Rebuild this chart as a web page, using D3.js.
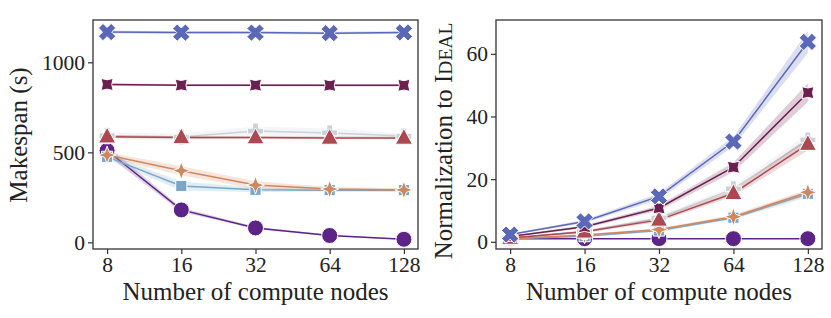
<!DOCTYPE html>
<html>
<head>
<meta charset="utf-8">
<script src="https://cdn.jsdelivr.net/npm/d3@7"></script>
<style>
  body { margin: 0; background: #fff; }
  svg text { font-family: "Liberation Serif", "DejaVu Serif", serif; fill: #222; }
</style>
</head>
<body>
<div id="chart"></div>
<script>
// x values (compute nodes)
var nodes = [8, 16, 32, 64, 128];
var xTicks = [8, 16, 32, 64, 128];
var leftTicks = [0, 500, 1000];
var rightTicks = [0, 20, 40, 60];

// one entry per series, drawn in this order
var seriesKeys = ["ideal", "square", "star", "plus", "triangle", "xstar", "cross"];
var seriesColors = ["#5b2486", "#79a7c9", "#d0875f", "#c9d1d9", "#ad4850", "#6d1f4f", "#5b68b9"];
var seriesMarkers = ["circle", "square", "star", "plus", "triangle", "xstar", "cross"];

// makespan (s)
var makespan = {
  ideal:    [510, 180, 80, 38, 17],
  square:   [475, 313, 292, 290, 290],
  star:     [485, 398, 318, 296, 291],
  plus:     [592, 585, 618, 608, 590],
  triangle: [587, 583, 582, 580, 580],
  xstar:    [877, 873, 873, 872, 872],
  cross:    [1168, 1165, 1165, 1162, 1166]
};
// half width of the shaded band (s)
var makespanErr = {
  ideal:    [25, 12, 6, 4, 2],
  square:   [15, 25, 12, 8, 8],
  star:     [15, 25, 22, 12, 10],
  plus:     [20, 20, 25, 25, 15],
  triangle: [8, 8, 8, 8, 8],
  xstar:    [6, 6, 6, 6, 6],
  cross:    [8, 8, 8, 8, 8]
};

// normalization to Ideal
var normalized = {
  ideal:    [1, 1, 1, 1, 1],
  square:   [1.0, 1.8, 3.6, 7.7, 15.3],
  star:     [1.0, 2.2, 3.9, 8.0, 15.8],
  plus:     [1.2, 3.3, 7.6, 16.9, 32.5],
  triangle: [1.2, 3.2, 7.0, 15.5, 31.2],
  xstar:    [1.7, 4.8, 10.8, 23.8, 47.6],
  cross:    [2.3, 6.5, 14.5, 32.0, 63.8]
};
var normalizedErr = {
  ideal:    [0, 0, 0, 0, 0],
  square:   [0.1, 0.2, 0.4, 0.6, 1.0],
  star:     [0.1, 0.2, 0.4, 0.6, 1.0],
  plus:     [0.2, 0.4, 0.6, 1.0, 2.0],
  triangle: [0.2, 0.4, 0.6, 1.0, 2.0],
  xstar:    [0.2, 0.5, 0.8, 1.5, 3.0],
  cross:    [0.2, 0.5, 1.0, 1.5, 3.5]
};

// marker shapes (size = rough radius in px)
function markerPath(type, r) {
  var p = d3.path();
  if (type == "circle") {
    p.moveTo(r, 0); p.arc(0, 0, r, 0, 2 * Math.PI);
  } else if (type == "square") {
    p.rect(-r * 0.8, -r * 0.8, r * 1.6, r * 1.6);
  } else if (type == "triangle") {
    p.moveTo(0, -r * 1.05); p.lineTo(r * 0.95, r * 0.7); p.lineTo(-r * 0.95, r * 0.7); p.closePath();
  } else if (type == "plus" || type == "cross") {
    var w = r * 0.36, a = type == "cross" ? Math.PI / 4 : 0;
    var pts = [[-w,-r],[w,-r],[w,-w],[r,-w],[r,w],[w,w],[w,r],[-w,r],[-w,w],[-r,w],[-r,-w],[-w,-w]];
    pts.forEach(function(q, i){
      var x = q[0] * Math.cos(a) - q[1] * Math.sin(a), y = q[0] * Math.sin(a) + q[1] * Math.cos(a);
      if (i == 0) p.moveTo(x, y); else p.lineTo(x, y);
    });
    p.closePath();
  } else if (type == "star" || type == "xstar") {
    var a0 = type == "xstar" ? Math.PI / 4 : 0;
    var inner = type == "xstar" ? 0.55 : 0.38;
    for (var i = 0; i < 8; i++) {
      var ang = a0 + i * Math.PI / 4 - Math.PI / 2;
      var rr = i % 2 == 0 ? r : r * inner;
      if (i == 0) p.moveTo(rr * Math.cos(ang), rr * Math.sin(ang)); else p.lineTo(rr * Math.cos(ang), rr * Math.sin(ang));
    }
    p.closePath();
  }
  return p.toString();
}
var markerSize = {circle: 8, square: 7, star: 9, plus: 8, triangle: 9, xstar: 8.5, cross: 9};

var svg = d3.select("#chart").append("svg").attr("width", 831).attr("height", 318);
svg.append("rect").attr("width", 831).attr("height", 318).attr("fill", "#fff");

var pad = Math.pow(2, 0.19);

function drawPanel(opt) {
  var x = d3.scaleLog().base(2).domain([8 / pad, 128 * pad]).range([opt.left, opt.right]);
  var y = d3.scaleLinear().domain(opt.yDomain).range([opt.bottom, opt.top]);
  var g = svg.append("g");

  var line = d3.line().x((d, i) => x(nodes[i])).y(d => y(d));
  var area = d3.area().x((d, i) => x(nodes[i]))
    .y0(d => y(d[0] - d[1])).y1(d => y(d[0] + d[1]));

  seriesKeys.forEach(function(k, si){
    var vals = opt.data[k], err = opt.err[k];
    var col = seriesColors[si];
    g.append("path").datum(vals.map((v, i) => [v, err[i]]))
      .attr("d", area).attr("fill", col).attr("fill-opacity", 0.22).attr("stroke", "none");
    g.append("path").datum(vals).attr("d", line)
      .attr("fill", "none").attr("stroke", col).attr("stroke-width", 1.5);
  });
  seriesKeys.forEach(function(k, si){
    var vals = opt.data[k];
    var m = seriesMarkers[si];
    g.selectAll(null).data(vals).enter().append("path")
      .attr("transform", (d, i) => "translate(" + x(nodes[i]) + "," + y(d) + ")")
      .attr("d", markerPath(m, markerSize[m]))
      .attr("fill", seriesColors[si]).attr("stroke", "#fff").attr("stroke-width", 1);
  });

  // frame
  g.append("rect").attr("x", opt.left).attr("y", opt.top)
    .attr("width", opt.right - opt.left).attr("height", opt.bottom - opt.top)
    .attr("fill", "none").attr("stroke", "#333").attr("stroke-width", 1.3);

  var xa = g.append("g").attr("transform", "translate(0," + opt.bottom + ")")
    .call(d3.axisBottom(x).tickValues(xTicks).tickFormat(d3.format("d")).tickSize(5).tickPadding(3));
  var ya = g.append("g").attr("transform", "translate(" + opt.left + ",0)")
    .call(d3.axisLeft(y).tickValues(opt.yTicks).tickFormat(d3.format("d")).tickSize(5).tickPadding(3));
  [xa, ya].forEach(function(a){
    a.select(".domain").remove();
    a.selectAll(".tick line").attr("stroke", "#333").attr("stroke-width", 1.2);
    a.selectAll(".tick text").attr("font-size", 21.5).attr("font-family", "Liberation Serif").attr("fill", "#222");
  });

  g.append("text").attr("x", (opt.left + opt.right) / 2).attr("y", 300)
    .attr("text-anchor", "middle").attr("font-size", 25).text("Number of compute nodes");
  return g;
}

drawPanel({left: 93, right: 418, top: 20, bottom: 249, yDomain: [-37, 1235], yTicks: leftTicks,
  data: makespan, err: makespanErr});
drawPanel({left: 496, right: 822, top: 20, bottom: 249, yDomain: [-2.3, 70.8], yTicks: rightTicks,
  data: normalized, err: normalizedErr});

svg.append("text").attr("transform", "translate(27,135) rotate(-90)")
  .attr("text-anchor", "middle").attr("font-size", 25).text("Makespan (s)");

var yl = svg.append("text").attr("transform", "translate(452,141) rotate(-90)")
  .attr("text-anchor", "middle").attr("font-size", 25);
yl.append("tspan").text("Normalization to I");
yl.append("tspan").attr("font-size", 19.5).text("DEAL");
</script>
</body>
</html>
